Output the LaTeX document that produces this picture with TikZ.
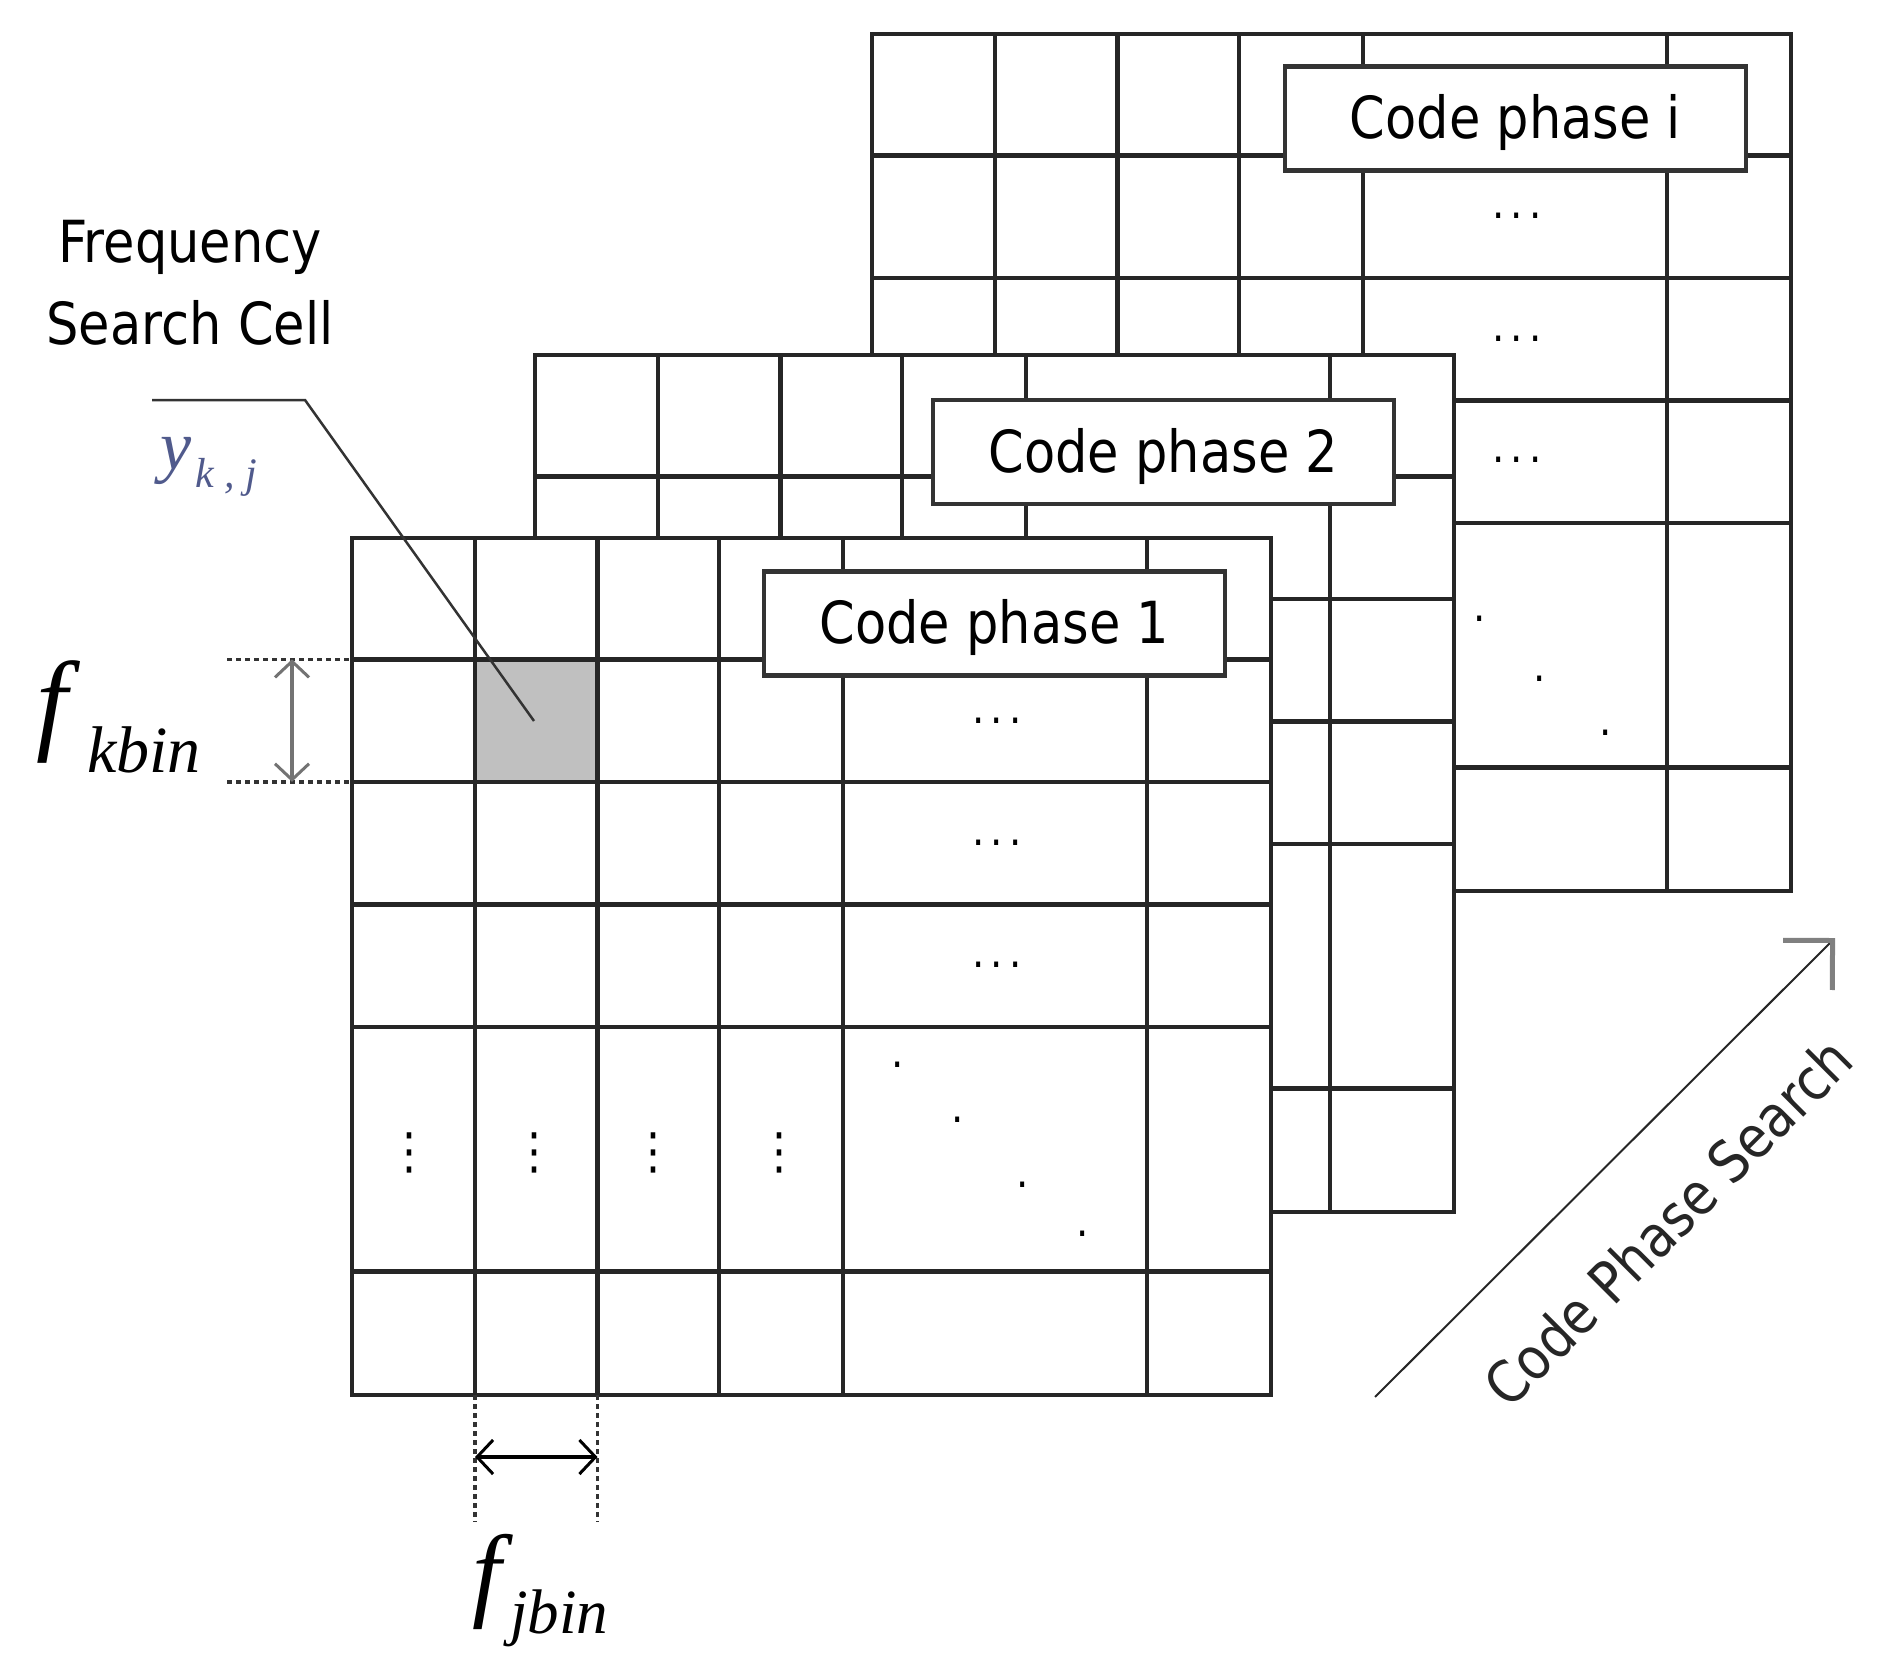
\documentclass[tikz,border=0pt]{standalone}
\usepackage{fontspec}
\usetikzlibrary{arrows.meta}
\newfontfamily\lblfont{DejaVu Sans}[FakeStretch=0.88]
\newfontfamily\tmsfont{Liberation Serif}
\definecolor{cellgray}{RGB}{192,192,192}
\definecolor{ykjcol}{RGB}{80,90,140}
\newcommand\cpgrid[3]{%
  \fill[white] (#1,#2) rectangle ++(919,857);
  #3
  \foreach \cx in {123,245.5,367,491,795} \draw[gridline] (#1+\cx,#2) -- ++(0,857);
  \foreach \ry in {121.3,243.8,366.3,488.8,733.7} \draw[gridline] (#1,#2+\ry) -- ++(919,0);
  \draw[gridline] (#1,#2) rectangle ++(919,857);
}
\tikzset{
  gridline/.style={draw=black!85, line width=4.5pt},
  cpbox/.style={draw=black!80, line width=4.5pt, fill=white, minimum width=461pt, minimum height=104pt,
    inner sep=0pt, font=\lblfont\fontsize{58}{70}\selectfont, text height=48pt, text depth=8pt},
  lbl/.style={inner sep=0pt, font=\lblfont\fontsize{58}{70}\selectfont},
  ellips/.style={inner sep=0pt, font=\lblfont\fontsize{44}{44}\selectfont},
  dotmark/.style={inner sep=0pt, font=\lblfont\fontsize{44}{44}\selectfont},
  vdots/.style={inner sep=0pt, font=\lblfont\fontsize{50}{50}\selectfont},
  dimext/.style={draw=black!80, line width=3.5pt, dash pattern=on 5pt off 4pt},
  dimtip/.tip={Straight Barb[length=16pt,width=34pt,line width=3pt]},
  dimline/.style={line width=4pt, dimtip-dimtip},
  leader/.style={draw=black!80, line width=2.5pt},
}
\newcommand\dotrow{.\kern6pt.\kern6pt.}
\begin{document}
\begin{tikzpicture}[x=1pt,y=-1pt]
\useasboundingbox (0,0) rectangle (1883,1672);
\fill[white] (0,0) rectangle (1883,1672);

% back grid: code phase i
\cpgrid{872}{34}{}
\node[cpbox] (cpi) at (1515.5,118.5) {Code phase i};
\node[ellips] (g3e1) at (1517,216) {\dotrow};
\node[ellips] (g3e2) at (1517,339) {\dotrow};
\node[ellips] (g3e3) at (1517,460) {\dotrow};
\foreach \px/\py [count=\i] in {1480/619,1540/679,1606/733}
  \node[dotmark] (g3d\i) at (\px,\py) {.};

% middle grid: code phase 2
\cpgrid{535}{355}{}
\node[cpbox] (cp2) at (1163.5,452) {Code phase 2};

% front grid: code phase 1
\cpgrid{352}{538}{\fill[cellgray] (352+123,538+121.3) rectangle (352+245.5,538+243.8);}
\node[cpbox] (cp1) at (994.5,623.5) {Code phase 1};
\node[ellips] (g1e1) at (997,721) {\dotrow};
\node[ellips] (g1e2) at (997,843) {\dotrow};
\node[ellips] (g1e3) at (997,965) {\dotrow};
\foreach \px/\py [count=\i] in {898/1065,958/1120,1023/1185,1083/1234}
  \node[dotmark] (g1d\i) at (\px,\py) {.};
\foreach \px [count=\j] in {409,534,653,779}
  \node[vdots] (g1v\j) at (\px,1153) {⋮};

% leader to search cell
\coordinate (ld0) at (152,400);
\coordinate (ld1) at (305,400);
\coordinate (ld2) at (534,721);
\draw[leader] (ld0) -- (ld1) -- (ld2);

% labels
\node[lbl, anchor=base] (fsc1) at (190,262) {Frequency};
\node[lbl, anchor=base] (fsc2) at (190,344) {Search Cell};
\node[inner sep=0pt, anchor=base west, text=ykjcol] (ykj) at (160,469)
  {\tmsfont\itshape\fontsize{70}{70}\selectfont y\kern4pt\raisebox{-18pt}{\fontsize{42}{42}\selectfont k , j}};

% frequency bin height
\coordinate (kt0) at (227,659.3);
\coordinate (kt1) at (352,659.3);
\coordinate (kb0) at (227,781.8);
\coordinate (kb1) at (352,781.8);
\draw[dimext] (kt0) -- (kt1);
\draw[dimext] (kb0) -- (kb1);
\coordinate (kv0) at (292,659.3);
\coordinate (kv1) at (292,781.8);
\draw[dimline, draw=black!55] (kv0) -- (kv1);
\node[inner sep=0pt, anchor=base west] (fk) at (36,739)
  {\tmsfont\itshape\fontsize{112}{112}\selectfont f\kern20pt\raisebox{-33pt}{\fontsize{66}{66}\selectfont kbin}};

% frequency bin width
\coordinate (jl0) at (475,1395);
\coordinate (jl1) at (475,1522);
\coordinate (jr0) at (597.5,1395);
\coordinate (jr1) at (597.5,1522);
\draw[dimext] (jl0) -- (jl1);
\draw[dimext] (jr0) -- (jr1);
\coordinate (jh0) at (475,1457);
\coordinate (jh1) at (597.5,1457);
\draw[dimline, draw=black] (jh0) -- (jh1);
\node[inner sep=0pt, anchor=base west] (fj) at (472,1607)
  {\tmsfont\itshape\fontsize{104}{104}\selectfont f\kern9pt\raisebox{-26pt}{\fontsize{63}{63}\selectfont jbin}};

% code phase search arrow
\coordinate (cs0) at (1375,1397);
\coordinate (cs1) at (1835,938);
\draw[line width=2pt, draw=black!85, -{Straight Barb[length=35pt,width=70pt,line width=5pt,color=black!50]}] (cs0) -- (cs1);
\node[lbl, rotate=45, text=black!85] (cps) at (1668,1222) {Code Phase Search};
\end{tikzpicture}
\end{document}
